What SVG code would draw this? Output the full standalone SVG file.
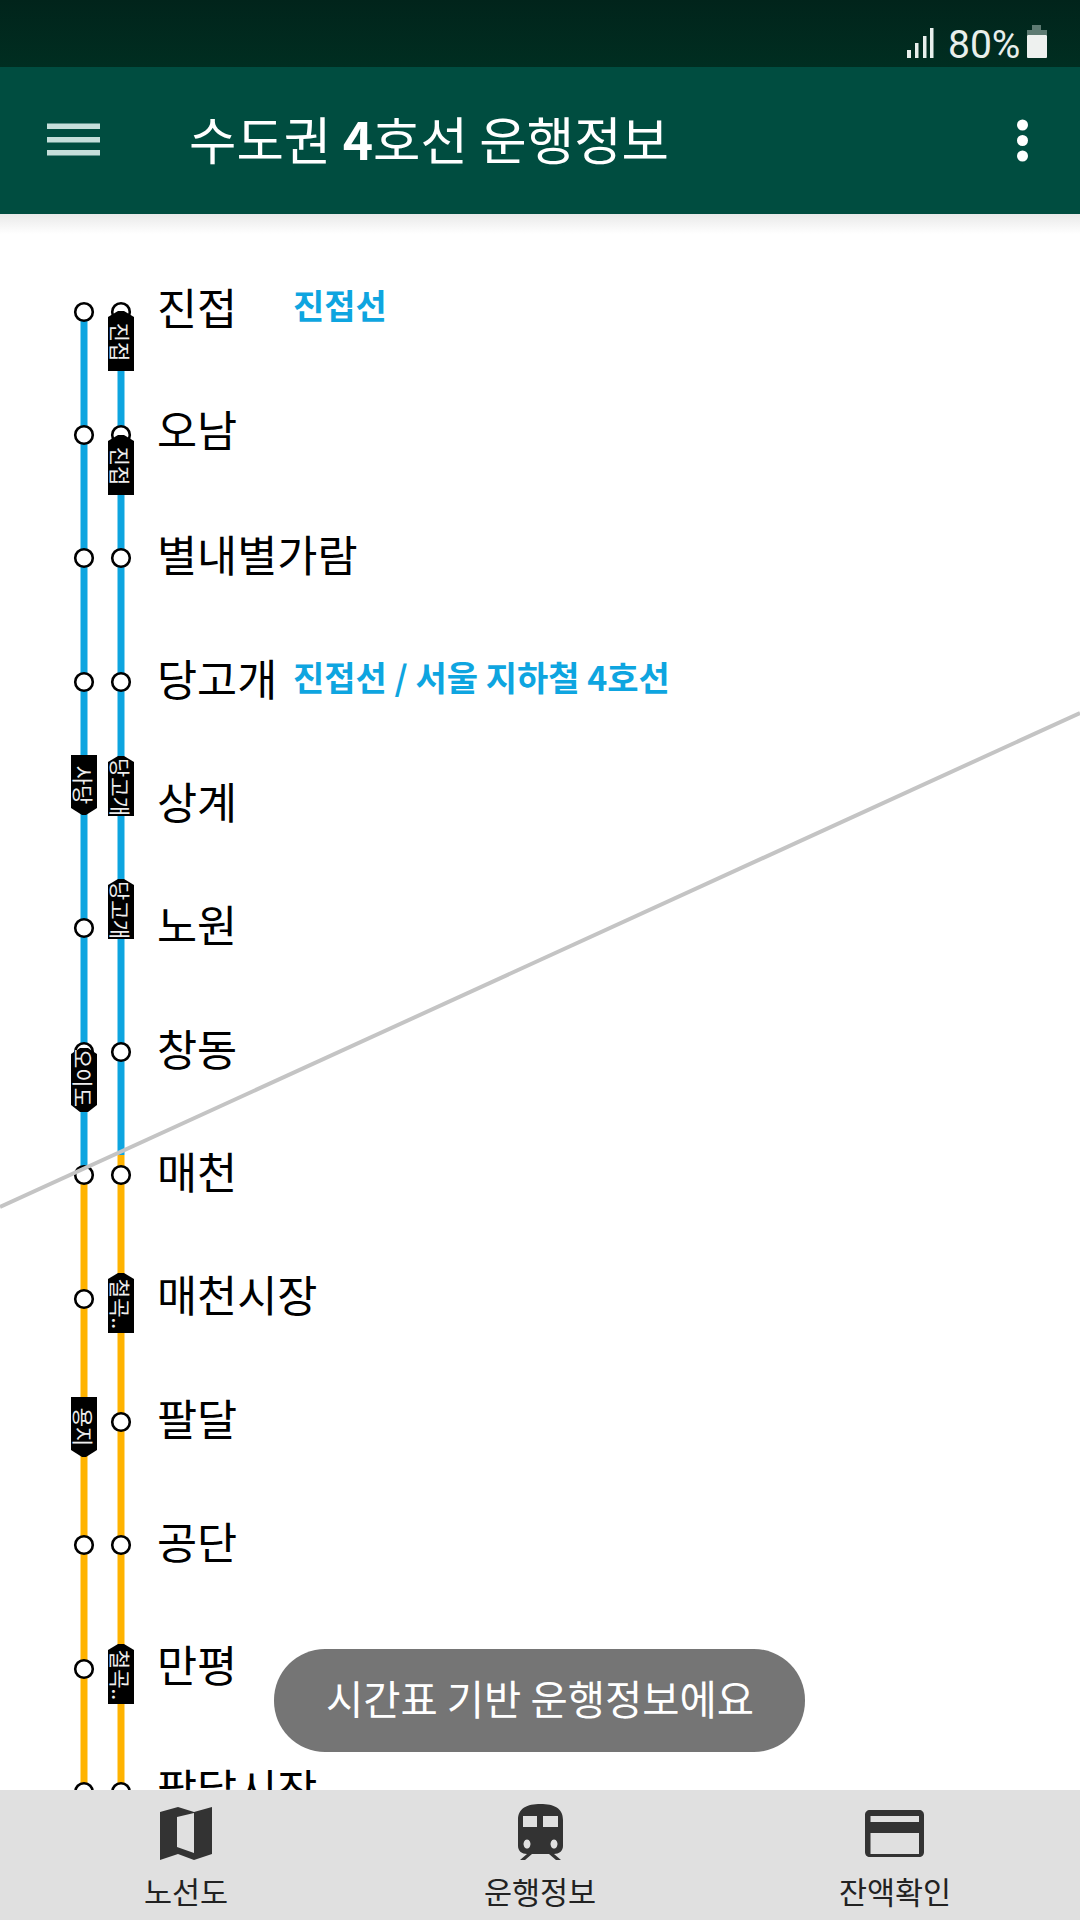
<svg xmlns="http://www.w3.org/2000/svg" width="1080" height="1920" viewBox="0 0 1080 1920">
<defs>
<linearGradient id="shadow" x1="0" y1="0" x2="0" y2="1"><stop offset="0" stop-color="#e9e9e9"/><stop offset="1" stop-color="#ffffff"/></linearGradient>
<linearGradient id="status" x1="0" y1="0" x2="0" y2="1"><stop offset="0" stop-color="#01241b"/><stop offset="1" stop-color="#002e21"/></linearGradient>
<path id="tagTop" d="M-13 -25 L-3 -31 H3 L13 -25 V29 H-13 Z"/>
<path id="tagBottom" d="M-13 -30 H13 V23 L2 30 H-2 L-13 23 Z"/>
<path id="tagBoth" d="M-13 -24 L-4 -30 H4 L13 -24 V27 L4 34 H-4 L-13 27 Z"/>
</defs>
<style>
text{font-family:"Noto Sans CJK KR","Noto Sans",sans-serif}
.st{font-size:43.6px;fill:#000}
.sub{font-size:34px;font-weight:700;fill:#0ea5e0}
.nav{font-size:30.5px;fill:#222;text-anchor:middle}
.tr{fill:none;stroke-width:7}
.blue{stroke:#0ea5e0}.or{stroke:#ffb300}
.c{fill:#fff;stroke:#000;stroke-width:2.6}
.tag{fill:#000}
.tt{font-size:21px;fill:#eee;text-anchor:middle;dominant-baseline:central}
.ico{fill:#333}
.sb{font-family:Roboto,sans-serif;font-size:39px;fill:#e8efec}
</style>
<rect width="1080" height="1920" fill="#fff"/>

<g id="connectors">
<path class="tr blue" d="M84 312V1175"/>
<path class="tr or" d="M84 1175V1792"/>
<path class="tr blue" d="M121 312V1155"/>
<path class="tr or" d="M121 1155V1792"/>
</g>

<g id="stations">
<g id="s1"><circle class="c" cx="84" cy="312" r="8.8"/><circle class="c" cx="121" cy="312" r="8.8"/><text class="st" x="157" y="325">진접</text><text class="sub" x="293" y="319">진접선</text></g>
<g id="s2"><circle class="c" cx="84" cy="435" r="8.8"/><circle class="c" cx="121" cy="435" r="8.8"/><text class="st" x="157" y="447">오남</text></g>
<g id="s3"><circle class="c" cx="84" cy="558" r="8.8"/><circle class="c" cx="121" cy="558" r="8.8"/><text class="st" x="157" y="572">별내별가람</text></g>
<g id="s4"><circle class="c" cx="84" cy="682" r="8.8"/><circle class="c" cx="121" cy="682" r="8.8"/><text class="st" x="157" y="696">당고개</text><text class="sub" x="293" y="691">진접선 / 서울 지하철 4호선</text></g>
<g id="s5"><text class="st" x="157" y="819">상계</text></g>
<g id="s6"><circle class="c" cx="84" cy="928" r="8.8"/><text class="st" x="157" y="942">노원</text></g>
<g id="s7"><circle class="c" cx="84" cy="1052" r="8.8"/><circle class="c" cx="121" cy="1052" r="8.8"/><text class="st" x="157" y="1066">창동</text></g>
<g id="s8"><circle class="c" cx="84" cy="1175" r="8.8"/><circle class="c" cx="121" cy="1175" r="8.8"/><text class="st" x="157" y="1189">매천</text></g>
<g id="s9"><circle class="c" cx="84" cy="1299" r="8.8"/><text class="st" x="157" y="1312">매천시장</text></g>
<g id="s10"><circle class="c" cx="121" cy="1422" r="8.8"/><text class="st" x="157" y="1436">팔달</text></g>
<g id="s11"><circle class="c" cx="84" cy="1545" r="8.8"/><circle class="c" cx="121" cy="1545" r="8.8"/><text class="st" x="157" y="1559">공단</text></g>
<g id="s12"><circle class="c" cx="84" cy="1669" r="8.8"/><text class="st" x="157" y="1682">만평</text></g>
<g id="s13"><circle class="c" cx="84" cy="1792" r="8.8"/><circle class="c" cx="121" cy="1792" r="8.8"/><text class="st" x="157" y="1806">팔달시장</text></g>
</g>

<g id="tags">
<g transform="translate(121 342)"><use href="#tagTop" class="tag"/><text class="tt" transform="rotate(90)">진접</text></g>
<g transform="translate(121 466)"><use href="#tagTop" class="tag"/><text class="tt" transform="rotate(90)">진접</text></g>
<g transform="translate(84 785)"><use href="#tagBottom" class="tag"/><text class="tt" transform="rotate(90)">사당</text></g>
<g transform="translate(121 787)"><use href="#tagTop" class="tag"/><text class="tt" transform="rotate(90)">당고개</text></g>
<g transform="translate(121 910)"><use href="#tagTop" class="tag"/><text class="tt" transform="rotate(90)">당고개</text></g>
<g transform="translate(84 1078)"><use href="#tagBoth" class="tag"/><text class="tt" transform="rotate(90)">오이도</text></g>
<g transform="translate(121 1304)"><use href="#tagTop" class="tag"/><text class="tt" transform="rotate(90)">철곡..</text></g>
<g transform="translate(84 1427)"><use href="#tagBottom" class="tag"/><text class="tt" transform="rotate(90)">용지</text></g>
<g transform="translate(121 1675)"><use href="#tagTop" class="tag"/><text class="tt" transform="rotate(90)">철곡..</text></g>
</g>

<path id="diagonal" d="M0 1207 L1080 713" stroke="#c4c4c4" stroke-width="4" fill="none"/>

<g id="toast"><rect x="274" y="1649" width="531" height="103" rx="51" fill="#757575"/><text x="540" y="1715" font-size="40.5" fill="#fff" text-anchor="middle">시간표 기반 운행정보에요</text></g>

<g id="statusbar">
<rect width="1080" height="67" fill="url(#status)"/>
<g fill="#e8efec"><rect x="907" y="50" width="4" height="8"/><rect x="915" y="43" width="3.5" height="15"/><rect x="923" y="36" width="3.5" height="22"/><rect x="930" y="28" width="3.5" height="30"/></g>
<text class="sb" x="948" y="58">80%</text>
<rect x="1027" y="35" width="20" height="23" rx="1" fill="#eef1ef"/><path d="M1032 25h9v5h6v5h-20v-5h5z" fill="#5d7a72"/>
</g>

<g id="appbar">
<rect y="67" width="1080" height="147" fill="#004d40"/>
<rect y="214" width="1080" height="20" fill="url(#shadow)"/>
<g fill="#c6dfdb"><rect x="47" y="123.5" width="53" height="5.5"/><rect x="47" y="137" width="53" height="5.5"/><rect x="47" y="150" width="53" height="5.5"/></g>
<text x="189" y="160" font-size="51.5" fill="#fff">수도권 <tspan font-weight="700">4</tspan>호선 운행정보</text>
<g fill="#fff"><circle cx="1022.5" cy="125" r="5.5"/><circle cx="1022.5" cy="140.5" r="5.5"/><circle cx="1022.5" cy="156" r="5.5"/></g>
</g>

<g id="bottomnav">
<rect y="1790" width="1080" height="130" fill="#e0e0e0"/>
<g id="nav-map"><path class="ico" fill-rule="evenodd" d="M160 1812 L178 1807 L194 1812 L212 1807 V1854 L194 1860 L178 1854 L160 1860 Z M177 1817 V1847 L194 1853 V1813 Z"/><text class="nav" x="186" y="1904">노선도</text></g>
<g id="nav-train"><path class="ico" fill-rule="evenodd" d="M540.5 1804 C527 1804 518 1808 518 1820 V1846 C518 1851 522 1854 527 1854 L520 1860 H525 L532 1854 H549 L556 1860 H561 L554 1854 C559 1854 563 1851 563 1846 V1820 C563 1808 554 1804 540.5 1804 Z M523 1816 H537 V1827 H523 Z M543 1816 H558 V1827 H543 Z M527 1839.5 a3.5 4.5 0 1 0 .01 0 Z M554 1839.5 a3.5 4.5 0 1 0 .01 0 Z"/><text class="nav" x="540" y="1904">운행정보</text></g>
<g id="nav-card"><path class="ico" fill-rule="evenodd" d="M870 1810 H919 C922 1810 924 1812 924 1815 V1852 C924 1855 922 1857 919 1857 H870 C867 1857 865 1855 865 1852 V1815 C865 1812 867 1810 870 1810 Z M870.5 1816 V1822 H919 V1816 Z M870.5 1833 V1854 H919 V1833 Z"/><text class="nav" x="895" y="1904">잔액확인</text></g>
</g>
</svg>
